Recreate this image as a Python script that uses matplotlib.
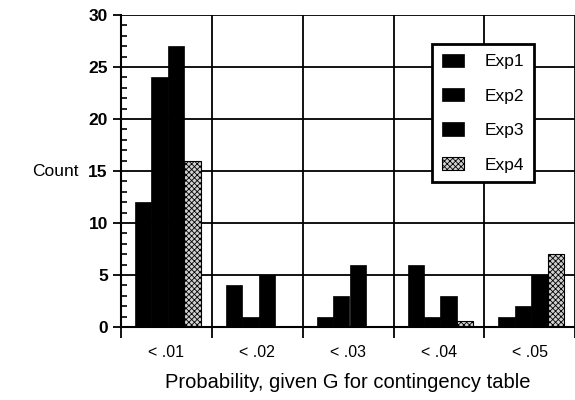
import numpy as np
import matplotlib.pyplot as plt
from matplotlib.ticker import MultipleLocator, FixedLocator, NullFormatter

plt.rcParams['font.family'] = ['Liberation Sans', 'DejaVu Sans']
plt.rcParams['hatch.linewidth'] = 0.6

categories = ["< .01", "< .02", "< .03", "< .04", "< .05"]
series_names = ["Exp1", "Exp2", "Exp3", "Exp4"]
exp1 = [12, 4, 1, 6, 1]
exp2 = [24, 1, 3, 1, 2]
exp3 = [27, 5, 6, 3, 5]
exp4 = [16, 0, 0, 0.6, 7]
series = [exp1, exp2, exp3, exp4]

fig = plt.figure(figsize=(5.75, 4), dpi=100)
ax = fig.add_axes([0.2104, 0.1825, 0.79, 0.78])

x = np.arange(len(categories))
width = 0.18
offsets = [-0.256, -0.075, 0.106, 0.287]

# grid first so bars sit on top
ax.set_axisbelow(True)
ax.grid(True, axis='both', which='major', color='black', linewidth=1.3)

for i, (name, vals) in enumerate(zip(series_names, series)):
    if name == "Exp4":
        ax.bar(x + offsets[i], vals, width, facecolor='#d0d0d0', edgecolor='black',
               hatch='xxxxxx', linewidth=0.8, label=name)
    else:
        ax.bar(x + offsets[i], vals, width, color='black', edgecolor='black',
               linewidth=0.5, label=name)

ax.set_xlim(-0.5, 4.5)
ax.set_ylim(0, 30)

# x: ticks at category boundaries, labels centred under categories
ax.xaxis.set_major_locator(FixedLocator(np.arange(-0.5, 5.0, 1.0)))
ax.xaxis.set_major_formatter(NullFormatter())
ax.xaxis.set_minor_locator(FixedLocator(x))
ax.set_xticklabels(categories, minor=True)
ax.tick_params(axis='x', which='major', direction='out', length=8, width=1.3)
ax.tick_params(axis='x', which='minor', length=0, pad=13, labelsize=11.5)

ax.yaxis.set_major_locator(MultipleLocator(5))
ax.yaxis.set_minor_locator(MultipleLocator(1))
ax.tick_params(axis='y', which='major', direction='out', length=6, width=1.3, labelsize=12.5)
ax.tick_params(axis='y', which='minor', direction='in', length=4, width=1.2)
for lbl in ax.get_yticklabels():
    lbl.set_fontweight('bold')

for s in ['top', 'right']:
    ax.spines[s].set_visible(False)
for s in ['left', 'bottom']:
    ax.spines[s].set_linewidth(1.5)

ax.set_xlabel("Probability, given G for contingency table", fontsize=14.5, labelpad=9)
ax.set_ylabel("Count", fontsize=12.5, rotation=0, labelpad=24, va='center')

leg = ax.legend(loc='upper left', bbox_to_anchor=(0.685, 0.907), borderaxespad=0,
                frameon=True, fancybox=False, framealpha=1, edgecolor='black',
                fontsize=12.5, handlelength=1.27, handleheight=0.8,
                handletextpad=1.2, labelspacing=1.08, borderpad=0.55)
leg.get_frame().set_linewidth(2)

fig.savefig("out.png", dpi=100)
